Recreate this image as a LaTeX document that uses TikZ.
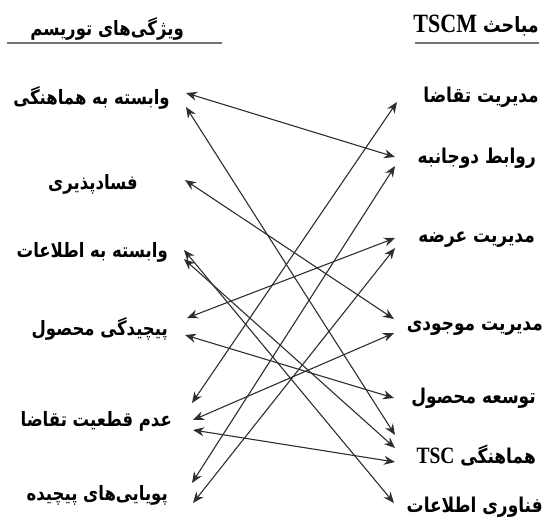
\documentclass[tikz,border=0pt]{standalone}
\usepackage{fontspec}
\usepackage{graphicx}
\usetikzlibrary{arrows.meta}
\TeXXeTstate=1
\newfontfamily\arabicfont[Script=Arabic]{DejaVu Sans}
\newfontfamily\latinserif{Liberation Serif}
% Persian text, stretched a little upward
\newcommand{\fatext}[1]{\scalebox{1}[1.2]{\beginR #1\endR}}

\begin{document}
\begin{tikzpicture}[x=1pt,y=-1pt,
  fa/.style={font=\arabicfont\bfseries\fontsize{17}{19}\selectfont, inner sep=0pt, anchor=east},
  faleft/.style={fa, font=\arabicfont\bfseries\fontsize{16.5}{19}\selectfont},
  head/.style={fa, font=\arabicfont\bfseries\fontsize{16.5}{19}\selectfont},
  headr/.style={fa, font=\arabicfont\bfseries\fontsize{17.5}{20}\selectfont},
  link/.style={draw=black!82, line width=1.1pt,
    {Stealth[length=11pt,width=9pt]}-{Stealth[length=11pt,width=9pt]}},
  rule/.style={draw=black!55, line width=1.6pt}]
\useasboundingbox (0,0) rectangle (544,520);

% column headings and their rules
\node[head] (h1) at (184,29) {\fatext{ویژگی‌های توریسم}};
\node[headr] (h2) at (539,26) {\fatext{مباحث \beginL{\latinserif\bfseries\fontsize{22}{24}\selectfont TSCM}\endL}};
\coordinate (u1s) at (7,43);  \coordinate (u1e) at (222,43);
\coordinate (u2s) at (415,43); \coordinate (u2e) at (539,43);
\draw[rule] (u1s) -- (u1e);
\draw[rule] (u2s) -- (u2e);

% tourism characteristics
\node[faleft] (l1) at (170,98)  {\fatext{وابسته به هماهنگی}};
\node[faleft] (l2) at (138,184) {\fatext{فسادپذیری}};
\node[faleft] (l3) at (168,252) {\fatext{وابسته به اطلاعات}};
\node[faleft] (l4) at (168,329) {\fatext{پیچیدگی محصول}};
\node[faleft] (l5) at (172,421) {\fatext{عدم قطعیت تقاضا}};
\node[faleft] (l6) at (168,495) {\fatext{پویایی‌های پیچیده}};

% TSCM topics
\node[fa] (r1) at (539,97)  {\fatext{مدیریت تقاضا}};
\node[fa] (r2) at (536,158) {\fatext{روابط دوجانبه}};
\node[fa] (r3) at (535,240) {\fatext{مدیریت عرضه}};
\node[fa] (r4) at (543,328) {\fatext{مدیریت موجودی}};
\node[fa] (r5) at (536,398) {\fatext{توسعه محصول}};
\node[fa] (r6) at (536,456) {\fatext{هماهنگی \beginL{\latinserif\bfseries\fontsize{19.5}{21}\selectfont TSC}\endL}};
\node[fa] (r7) at (543,507) {\fatext{فناوری اطلاعات}};

% arrow ends beside the left labels
\coordinate (l1a) at (186,93);  \coordinate (l1b) at (186,107);
\coordinate (l2a) at (185,180);
\coordinate (l3a) at (184,250); \coordinate (l3b) at (184,259);
\coordinate (l4a) at (187,318); \coordinate (l4b) at (185,335);
\coordinate (l5a) at (192,403); \coordinate (l5b) at (193,420); \coordinate (l5c) at (193,430);
\coordinate (l6a) at (192,483); \coordinate (l6b) at (193,503);

% arrow ends beside the right labels
\coordinate (r1a) at (397,102);
\coordinate (r2a) at (395,157); \coordinate (r2b) at (395,166);
\coordinate (r3a) at (395,238); \coordinate (r3b) at (395,248);
\coordinate (r4a) at (394,319); \coordinate (r4b) at (394,333);
\coordinate (r5a) at (394,398);
\coordinate (r6a) at (395,435); \coordinate (r6b) at (395,448); \coordinate (r6c) at (395,462);
\coordinate (r7a) at (394,503);

% links
\draw[link] (l1a) -- (r2a);
\draw[link] (l1b) -- (r6a);
\draw[link] (l2a) -- (r4a);
\draw[link] (l3a) -- (r7a);
\draw[link] (l3b) -- (r6b);
\draw[link] (l4a) -- (r3a);
\draw[link] (l4b) -- (r5a);
\draw[link] (l5a) -- (r1a);
\draw[link] (l5b) -- (r4b);
\draw[link] (l5c) -- (r6c);
\draw[link] (l6a) -- (r2b);
\draw[link] (l6b) -- (r3b);
\end{tikzpicture}
\end{document}
